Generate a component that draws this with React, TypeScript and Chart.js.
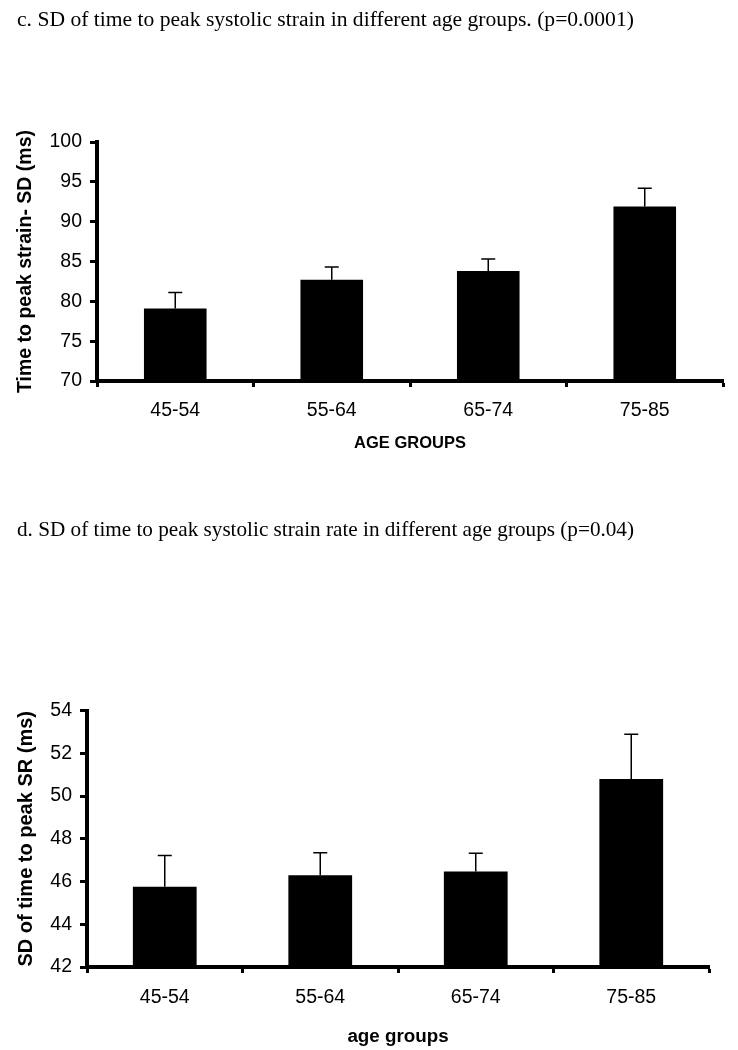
import React, { useEffect, useRef } from "react";
import { Chart, registerables } from "chart.js";

Chart.register(...registerables);

const categories = ["45-54", "55-64", "65-74", "75-85"];

const strainTitle = "c. SD of time to peak systolic strain in different age groups. (p=0.0001)";
const strainValues = [79.1, 82.7, 83.8, 91.9];
const strainErrors = [2.0, 1.6, 1.5, 2.3];
const strainYLabel = "Time to peak strain- SD (ms)";
const strainXLabel = "AGE GROUPS";
const strainTicks = { min: 70, max: 100, step: 5 };

const rateTitle = "d. SD of time to peak systolic strain rate in different age groups (p=0.04)";
const rateValues = [45.76, 46.3, 46.47, 50.8];
const rateErrors = [1.46, 1.05, 0.86, 2.09];
const rateYLabel = "SD of time to peak SR (ms)";
const rateXLabel = "age groups";
const rateTicks = { min: 42, max: 54, step: 2 };

const SANS = "'Liberation Sans', Arial, sans-serif";
const SERIF = "'Liberation Serif', 'Times New Roman', serif";

const errorBarPlugin = {
  id: "errorBars",
  afterDatasetsDraw(chart: any) {
    const errs: number[] = chart.options.plugins.errorBars.errors;
    const vals: number[] = chart.data.datasets[0].data;
    const meta = chart.getDatasetMeta(0);
    const y = chart.scales.y;
    const ctx = chart.ctx;
    ctx.save();
    ctx.strokeStyle = "#000";
    ctx.lineWidth = 1.5;
    meta.data.forEach((bar: any, i: number) => {
      const top = y.getPixelForValue(vals[i] + errs[i]);
      ctx.beginPath();
      ctx.moveTo(bar.x, bar.y);
      ctx.lineTo(bar.x, top);
      ctx.moveTo(bar.x - 7, top);
      ctx.lineTo(bar.x + 7, top);
      ctx.stroke();
    });
    ctx.restore();
  },
};

type Cfg = {
  title: string;
  titleSize: number;
  values: number[];
  errors: number[];
  yLabel: string;
  yLabelSize: number;
  xLabel: string;
  xLabelSize: number;
  ticks: { min: number; max: number; step: number };
  height: number;
  padRight: number;
  titlePadTop: number;
  titlePadBottom: number;
  yAxisWidth: number;
  yTitlePad: number;
  xAxisHeight: number;
  xTitlePadBottom: number;
  xTickPad: number;
  barPct: number;
};

function BarPanel({ cfg }: { cfg: Cfg }) {
  const ref = useRef<HTMLCanvasElement | null>(null);
  useEffect(() => {
    if (!ref.current) return;
    const chart = new Chart(ref.current, {
      type: "bar",
      data: {
        labels: categories,
        datasets: [
          {
            data: cfg.values,
            backgroundColor: "#000",
            borderColor: "#000",
            borderWidth: 0,
            barPercentage: cfg.barPct,
            categoryPercentage: 1,
          },
        ],
      },
      options: {
        responsive: false,
        animation: false,
        layout: { padding: { left: 17, right: cfg.padRight, top: 0, bottom: 0 } },
        plugins: {
          legend: { display: false },
          tooltip: { enabled: false },
          title: {
            display: true,
            text: cfg.title,
            align: "start",
            color: "#000",
            font: { family: SERIF, size: cfg.titleSize, weight: "normal", lineHeight: 1.2 },
            padding: { top: cfg.titlePadTop, bottom: cfg.titlePadBottom },
          },
          errorBars: { errors: cfg.errors },
        } as any,
        scales: {
          x: {
            type: "category",
            grid: {
              display: true,
              drawOnChartArea: false,
              drawTicks: true,
              tickLength: 6,
              tickWidth: 3,
              tickColor: "#000",
              offset: true,
            },
            border: { display: true, color: "#000", width: 4 },
            ticks: {
              color: "#000",
              font: { family: SANS, size: 19.5 },
              padding: cfg.xTickPad,
              maxRotation: 0,
            },
            title: {
              display: true,
              text: cfg.xLabel,
              color: "#000",
              font: { family: SANS, size: cfg.xLabelSize, weight: "bold" },
              padding: { top: 0, bottom: cfg.xTitlePadBottom },
            },
            afterFit: (s: any) => {
              s.height = cfg.xAxisHeight;
            },
          },
          y: {
            type: "linear",
            min: cfg.ticks.min,
            max: cfg.ticks.max,
            grid: {
              display: true,
              drawOnChartArea: false,
              drawTicks: true,
              tickLength: 7,
              tickWidth: 3,
              tickColor: "#000",
            },
            border: { display: true, color: "#000", width: 4 },
            ticks: {
              stepSize: cfg.ticks.step,
              color: "#000",
              font: { family: SANS, size: 19.5 },
              padding: 8,
            },
            title: {
              display: true,
              text: cfg.yLabel,
              color: "#000",
              font: { family: SANS, size: cfg.yLabelSize, weight: "bold" },
              padding: { top: cfg.yTitlePad, bottom: 0 },
            },
            afterFit: (s: any) => {
              s.width = cfg.yAxisWidth;
            },
          },
        },
      },
      plugins: [errorBarPlugin],
    });
    return () => chart.destroy();
  }, [cfg]);
  return <canvas ref={ref} width={738} height={cfg.height} style={{ display: "block", width: 738, height: cfg.height }} />;
}

const strainCfg: Cfg = {
  title: strainTitle,
  titleSize: 21.6,
  values: strainValues,
  errors: strainErrors,
  yLabel: strainYLabel,
  yLabelSize: 19.5,
  xLabel: strainXLabel,
  xLabelSize: 16.5,
  ticks: strainTicks,
  height: 470,
  padRight: 15,
  titlePadTop: 7.5,
  titlePadBottom: 108.6,
  yAxisWidth: 80,
  yTitlePad: -2.7,
  xAxisHeight: 89,
  xTitlePadBottom: 16.8,
  xTickPad: 11.8,
  barPct: 0.4,
};

const rateCfg: Cfg = {
  title: rateTitle,
  titleSize: 21.2,
  values: rateValues,
  errors: rateErrors,
  yLabel: rateYLabel,
  yLabelSize: 20,
  xLabel: rateXLabel,
  xLabelSize: 18.8,
  ticks: rateTicks,
  height: 580,
  padRight: 29,
  titlePadTop: 48.2,
  titlePadBottom: 167,
  yAxisWidth: 70,
  yTitlePad: -3,
  xAxisHeight: 83,
  xTitlePadBottom: 2,
  xTickPad: 12.8,
  barPct: 0.41,
};

export default function App() {
  return (
    <div style={{ position: "absolute", left: 0, top: 0, width: 738, height: 1050, background: "#fff" }}>
      <BarPanel cfg={strainCfg} />
      <BarPanel cfg={rateCfg} />
    </div>
  );
}
